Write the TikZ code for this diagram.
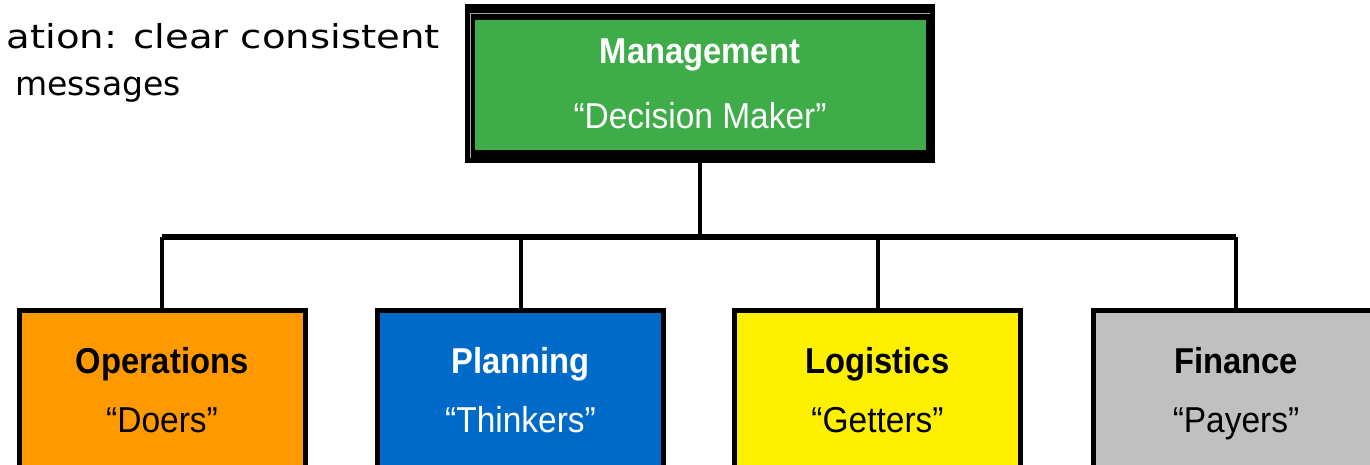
\documentclass[tikz,border=0pt]{standalone}
\usepackage{fontspec}
\setmainfont{Liberation Sans}
\newfontfamily\slidefont{DejaVu Sans}
\definecolor{mgreen}{RGB}{62,172,72}
\definecolor{oorange}{RGB}{255,153,0}
\definecolor{pblue}{RGB}{0,106,200}
\definecolor{lyellow}{RGB}{255,240,0}
\definecolor{fgrey}{RGB}{192,192,192}
\tikzset{
  orgbox/.style={draw=black, line width=5pt, minimum width=286pt, minimum height=170pt, inner sep=0pt},
  conn/.style={line width=4pt, black},
  barline/.style={line width=6pt, black},
  title/.style={font=\fontsize{36}{40}\selectfont\bfseries, inner sep=0pt, anchor=base, xscale=0.91},
  sub/.style={font=\fontsize{36}{40}\selectfont, inner sep=0pt, anchor=base, xscale=0.93},
  slide/.style={font=\slidefont\fontsize{33}{38}\selectfont, inner sep=0pt}
}
\begin{document}
\begin{tikzpicture}[x=1pt,y=-1pt]
\useasboundingbox (0,0) rectangle (1370,464);
\fill[white] (0,0) rectangle (1370,464);
% slide text
\node[slide, anchor=base east, xscale=1.17] (t1) at (440,48) {ation: clear consistent};
\node[slide, anchor=base west] (t2) at (15,95) {messages};
% management box
\node[fill=black, minimum width=470pt, minimum height=159pt, inner sep=0pt] (mgmt) at (700,83.5) {};
\draw[gray!70, line width=1pt] (470,158) -- (470,13) -- (930,13);
\fill[mgreen] (475,20) rectangle (926,150);
\node[title, text=white] (mt) at (700,63) {Management};
\node[sub, text=white] (ms) at (700,128) {``Decision Maker''};
% bottom boxes
\node[orgbox, fill=oorange] (ops) at (162,395) {};
\node[orgbox, fill=pblue] (pln) at (520.5,395) {};
\node[orgbox, fill=lyellow] (log) at (877.5,395) {};
\node[orgbox, fill=fgrey] (fin) at (1236,395) {};
\node[title] (opt) at (162,373) {Operations};
\node[sub] (ops2) at (162,432) {``Doers''};
\node[title, text=white] (plt) at (520.5,373) {Planning};
\node[sub, text=white] (pls) at (520.5,432) {``Thinkers''};
\node[title] (lgt) at (877.5,373) {Logistics};
\node[sub] (lgs) at (877.5,432) {``Getters''};
\node[title] (fnt) at (1236,373) {Finance};
\node[sub] (fns) at (1236,432) {``Payers''};
% connectors
\coordinate (bar) at (699,237);
\draw[conn] (mgmt.south) -- (mgmt.south |- bar);
\draw[barline] (ops.north |- bar) -- (fin.north |- bar);
\draw[conn] (ops.north |- bar) -- (ops.north);
\draw[conn] (pln.north |- bar) -- (pln.north);
\draw[conn] (log.north |- bar) -- (log.north);
\draw[conn] (fin.north |- bar) -- (fin.north);
\end{tikzpicture}
\end{document}
